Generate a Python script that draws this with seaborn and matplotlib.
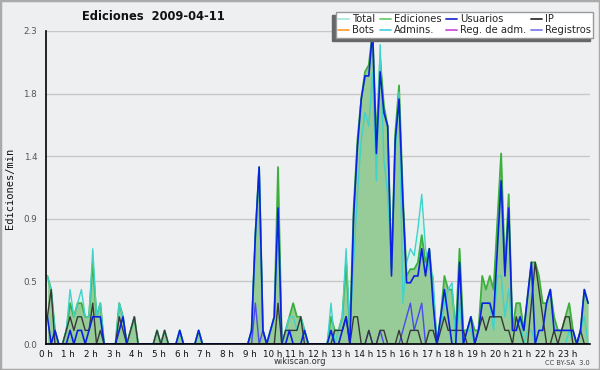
import numpy as np
import pandas as pd
import seaborn as sns
import matplotlib
matplotlib.use("Agg")
import matplotlib.pyplot as plt
from matplotlib.lines import Line2D
from matplotlib.patches import Rectangle
from matplotlib.ticker import FixedLocator, MultipleLocator

# ---- data: edits per minute, 10-minute buckets (144 per day) ----
ediciones = [
    .5, .4, .1, 0, 0, .1,   .3, .2, .3, .3, .2, .2,   .6, .2, .3, 0, 0, 0,
    0, .3, .2, 0, .1, .2,   0, 0, 0, 0, 0, .1,        0, .1, 0, 0, 0, .1,
    0, 0, 0, 0, .1, 0,      0, 0, 0, 0, 0, 0,         0, 0, 0, 0, 0, 0,
    .1, .8, 1.3, .1, 0, .1, .2, 1.3, 0, .1, .2, .3,   .2, .2, .1, 0, 0, 0,
    0, 0, 0, .2, .1, .1,    .2, .6, .1, 1.0, 1.5, 1.8, 2.0, 2.05, 2.3, 1.5, 2.1, 1.75,
    1.6, .55, 1.55, 1.9, 1.1, .5, .55, .55, .6, .8, .6, .7, .4, 0, .2, .5, .4, .4,
    .1, .7, .1, .1, .2, .1, .1, .5, .4, .5, .4, .9,   1.4, .55, 1.1, .1, .3, .3,
    .1, .35, .6, .6, .5, .3, .3, .4, .2, .1, .1, .2,  .3, .1, 0, .1, .4, .3,
]
total = [
    .5, .4, .1, 0, 0, .1,   .4, .2, .3, .4, .2, .2,   .7, .2, .3, 0, 0, 0,
    0, .3, .2, 0, .1, .2,   0, 0, 0, 0, 0, .1,        0, .1, 0, 0, 0, .1,
    0, 0, 0, 0, .1, 0,      0, 0, 0, 0, 0, 0,         0, 0, 0, 0, 0, 0,
    .1, .8, 1.3, .1, 0, .1, .2, 1.0, 0, .1, .2, .2,   .1, .2, .1, 0, 0, 0,
    0, 0, 0, .3, 0, .1,     .2, .7, .1, .6, 1.1, 1.5, 1.7, 1.6, 2.0, 1.2, 2.2, 1.35,
    1.1, .6, 1.4, 1.85, .3, .6, .7, .65, .85, 1.1, .7, .55, .5, 0, .1, .3, .4, .45,
    0, .3, 0, .1, .1, 0,    .1, .3, .3, .3, .1, .5,   .5, .2, .4, .1, .1, .2,
    0, .1, .1, 0, 0, 0,     0, 0, 0, 0, 0, 0,         .1, 0, 0, .1, .2, 0,
]
usuarios = [
    .2, 0, .1, 0, 0, 0,     .1, 0, .1, .1, 0, .1,     .2, .2, .2, 0, 0, 0,
    0, .1, .2, 0, 0, 0,     0, 0, 0, 0, 0, 0,         0, 0, 0, 0, 0, .1,
    0, 0, 0, 0, .1, 0,      0, 0, 0, 0, 0, 0,         0, 0, 0, 0, 0, 0,
    .1, .8, 1.3, .1, 0, .1, .2, 1.0, 0, 0, .1, 0,     0, 0, .1, 0, 0, 0,
    0, 0, 0, .1, 0, 0,      .1, .2, 0, .95, 1.45, 1.8, 1.97, 1.97, 2.3, 1.4, 2.0, 1.7,
    1.6, .5, 1.5, 1.8, 1.05, .45, .45, .5, .5, .7, .5, .7, .3, 0, .2, .4, .2, 0,
    0, .6, 0, .1, .2, 0,    .1, .3, .3, .3, .2, .7,   1.2, .5, 1.0, .1, .1, .2,
    .1, .35, .6, 0, .1, .1, .3, .4, .1, .1, .1, .1,   .1, .1, 0, .1, .4, .3,
]
ip = [
    .2, .4, 0, 0, 0, .1,    .2, .1, .2, .2, .1, .1,   .3, 0, .1, 0, 0, 0,
    0, .2, .1, 0, .1, .2,   0, 0, 0, 0, 0, .1,        0, .1, 0, 0, 0, 0,
    0, 0, 0, 0, 0, 0,       0, 0, 0, 0, 0, 0,         0, 0, 0, 0, 0, 0,
    0, 0, 0, 0, 0, 0,       0, .3, 0, .1, .1, .1,     .1, .2, 0, 0, 0, 0,
    0, 0, 0, 0, .1, .1,     .1, .2, 0, .2, .2, 0,     0, .1, 0, 0, .1, .1,
    0, 0, 0, .1, 0, 0,      .1, .1, .1, 0, 0, .1,     .1, 0, .1, .2, .1, .1,
    .1, .1, .1, 0, 0, 0,    .1, .2, .1, .2, .2, .2,   .2, .1, .1, 0, .2, .1,
    0, 0, .3, .6, .4, .2,   0, 0, .1, 0, .1, .2,      .2, 0, 0, .1, 0, 0,
]
registros = [0] * 55 + [.3, 0, .1] + [0] * 27 + [.1, 0, 0, .1] + [0] * 5 + \
            [.1, .2, .3, .1, .2, .3] + [0] * 44

hour_labels = [f"{h} h" for h in range(24)]
legend_names = ["Total", "Ediciones", "Usuarios", "IP",
                "Bots", "Admins.", "Reg. de adm.", "Registros"]
legend_colors = ["#a9e6df", "#6fcf6f", "#2733d0", "#333333",
                 "#ffa33c", "#4fd2e4", "#d24fe0", "#7f7ff0"]

minutes = np.arange(5, 1440, 10)
df = pd.DataFrame({"hour": minutes / 60.0, "Total": total, "Ediciones": ediciones,
                   "Usuarios": usuarios, "IP": ip, "Registros": registros})

sns.set_theme(style="white")
plt.rcParams["font.family"] = ["DejaVu Sans"]

bg = "#eeeff1"
fig = plt.figure(figsize=(6.0, 3.7), dpi=100, facecolor=bg)
ax = fig.add_axes([45.5 / 600, 1 - 344 / 370, (590 - 45.5) / 600, (344 - 31) / 370])
ax.set_facecolor(bg)

# fills
ax.fill_between(df["hour"], df["Total"], color="#d9f2ec", lw=0, zorder=1)
ax.fill_between(df["hour"], df["Ediciones"], color="#97cb97", lw=0, zorder=2)

sns.lineplot(data=df, x="hour", y="Total", color="#3fd3cb", lw=1.0, ax=ax, zorder=4)
sns.lineplot(data=df, x="hour", y="Ediciones", color="#3caf3c", lw=1.3, ax=ax, zorder=3)
sns.lineplot(data=df, x="hour", y="Registros", color="#4a4af0", lw=1.0, ax=ax, zorder=5)
sns.lineplot(data=df, x="hour", y="IP", color="#383838", lw=1.0, ax=ax, zorder=6)
sns.lineplot(data=df, x="hour", y="Usuarios", color="#0a22e0", lw=1.2, ax=ax, zorder=7)

ax.set_xlim(0, 24)
ax.set_ylim(0, 2.3)
yt = [0, 0.46, 0.92, 1.38, 1.84, 2.3]
ax.set_yticks(yt)
ax.set_yticklabels([f"{v:.1f}" for v in yt])
ax.yaxis.set_minor_locator(FixedLocator([0.23, 0.69, 1.15, 1.61, 2.07]))
ax.set_xticks(range(24))
ax.set_xticklabels(hour_labels)
ax.xaxis.set_minor_locator(MultipleLocator(1 / 6))
for v in yt[1:]:
    ax.axhline(v, color="#c8c8c8", lw=1.0, zorder=0.5)

for s in ["top", "right"]:
    ax.spines[s].set_visible(False)
for s in ["left", "bottom"]:
    ax.spines[s].set_color("black")
    ax.spines[s].set_linewidth(1.2)
    ax.spines[s].set_zorder(10)

ax.tick_params(axis="x", which="major", direction="out", length=4, width=1,
               color="black", labelsize=6.3, pad=0, labelcolor="#111111")
ax.tick_params(axis="x", which="minor", direction="out", length=3, width=1, color="black")
ax.tick_params(axis="y", which="major", direction="out", length=5, width=1,
               color="black", labelsize=6.3, pad=1, labelcolor="#555555")
ax.tick_params(axis="y", which="minor", direction="out", length=3, width=1, color="black")
ax.set_xlabel("")
ax.set_ylabel("")
fig.text(10 / 600, 1 - 188 / 370, "Ediciones/min", rotation=90, ha="center", va="center",
         family="DejaVu Sans Mono", fontsize=7.5, color="#111111")

fig.text(153 / 600, 1 - 17 / 370, "Ediciones  2009-04-11", ha="center", va="center",
         fontsize=8.3, fontweight="bold", color="#111111")
fig.text(300 / 600, 1 - 362 / 370, "wikiscan.org", ha="center", va="center",
         fontsize=6, color="#333333")
fig.text(590 / 600, 1 - 363 / 370, "CC BY-SA  3.0", ha="right", va="center",
         fontsize=4.8, color="#444444")

handles = [Line2D([], [], color=c, lw=1.3) for c in legend_colors]
order = [0, 4, 1, 5, 2, 6, 3, 7]
leg = fig.legend([handles[i] for i in order], [legend_names[i] for i in order],
                 ncol=4, loc="upper right", bbox_to_anchor=(593 / 600, 1 - 12 / 370),
                 fontsize=7.2, frameon=True, fancybox=False, framealpha=1,
                 shadow={"ox": -2.2, "oy": -2.2, "color": "#666666", "alpha": 1},
                 handlelength=1.1, handletextpad=0.3, columnspacing=0.45,
                 labelspacing=0.05, borderpad=0.25, borderaxespad=0)
leg.get_frame().set_facecolor("white")
leg.get_frame().set_edgecolor("#999999")
leg.get_frame().set_linewidth(1.0)
leg.set_zorder(20)

fig.patches.append(Rectangle((0, 0), 1, 1, transform=fig.transFigure, fill=False,
                             edgecolor="#aaaaaa", lw=2.5, zorder=30))

fig.savefig("out.png", dpi=100, facecolor=bg)
